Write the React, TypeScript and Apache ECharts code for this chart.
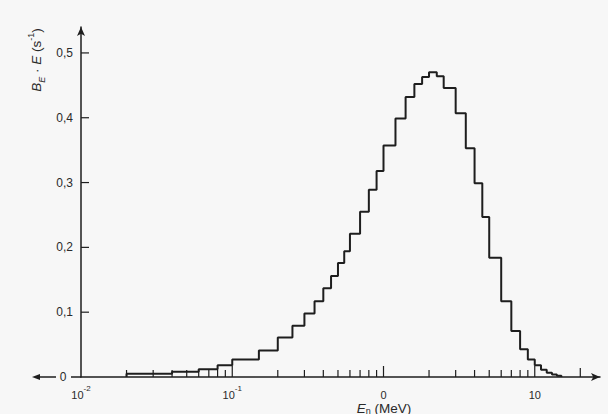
import React, { useEffect, useRef } from "react";
import * as echarts from "echarts";

// Energy bin edges (MeV) and histogram values B_E·E (s^-1)
const binEdges = [
  0.02, 0.04, 0.06, 0.08, 0.1, 0.15, 0.2, 0.25, 0.3, 0.35, 0.4, 0.45, 0.5, 0.55, 0.6,
  0.7, 0.8, 0.9, 1.0, 1.2, 1.4, 1.6, 1.8, 2.0, 2.25, 2.5, 3.0, 3.5, 4.0, 4.5, 5.0,
  6.0, 7.0, 8.0, 9.0, 10, 11, 12, 13, 14, 15,
];
const binValues = [
  0.005, 0.008, 0.012, 0.018, 0.027, 0.041, 0.061, 0.079, 0.098, 0.117, 0.137, 0.156,
  0.176, 0.194, 0.221, 0.255, 0.289, 0.318, 0.357, 0.399, 0.432, 0.452, 0.463, 0.47,
  0.464, 0.446, 0.407, 0.353, 0.299, 0.247, 0.184, 0.117, 0.071, 0.043, 0.027, 0.018,
  0.011, 0.0065, 0.004, 0.002,
];

// Axis ticks
const minorTicksX = [
  0.02, 0.03, 0.04, 0.05, 0.06, 0.07, 0.08, 0.09,
  0.2, 0.3, 0.4, 0.5, 0.6, 0.7, 0.8, 0.9,
  2, 3, 4, 5, 6, 7, 8, 9,
];
const majorTicksX = [0.1, 1, 10];
const extraTicksX = [20];
const yTickValues = [0.1, 0.2, 0.3, 0.4, 0.5];
const xTickLabels: Record<string, string> = {
  "-2": "{a|10}{s|-2}",
  "-1": "{a|10}{s|-1}",
  "0": "{a|0}",
  "1": "{a|10}",
};

const FONT = "Liberation Sans, Arial, sans-serif";
const INK = "#1e1e1e";
const TXT = "#2a2a2a";

export default function App() {
  const ref = useRef<HTMLDivElement>(null);

  useEffect(() => {
    if (!ref.current) return;
    const chart = echarts.init(ref.current, undefined, { renderer: "svg" });

    const histo: number[][] = [[binEdges[0], 0]];
    for (let i = 0; i < binValues.length; i++) {
      histo.push([binEdges[i], binValues[i]]);
      histo.push([binEdges[i + 1], binValues[i]]);
    }
    histo.push([binEdges[binEdges.length - 1], 0]);

    const xTickData = [
      ...minorTicksX.map((e) => [e, 0, 7]),
      ...majorTicksX.map((e) => [e, 0, 11]),
      ...extraTicksX.map((e) => [e, 0, 9]),
    ];
    const yTickData = yTickValues.map((v) => [0.01, v, 8]);

    chart.setOption({
      animation: false,
      backgroundColor: "#f7f7f7",
      grid: { left: 81, right: 8, top: 27, bottom: 37, containLabel: false },
      xAxis: {
        type: "log",
        logBase: 10,
        min: 0.01,
        max: 27,
        axisLine: {
          show: true,
          symbol: ["none", "arrow"],
          symbolSize: [6, 9],
          lineStyle: { color: INK, width: 1.5 },
        },
        axisTick: { show: false },
        minorTick: { show: false },
        splitLine: { show: false },
        axisLabel: {
          margin: 7,
          color: TXT,
          fontFamily: FONT,
          formatter: (v: number) => {
            const l = Math.log10(v);
            const r = Math.round(l);
            if (Math.abs(l - r) > 1e-6) return "";
            return xTickLabels[String(r)] || "";
          },
          rich: {
            a: { fontSize: 11, lineHeight: 22, verticalAlign: "middle", color: TXT, fontFamily: FONT },
            s: { fontSize: 8, lineHeight: 6, verticalAlign: "top", color: TXT, fontFamily: FONT },
          },
        },
      },
      yAxis: {
        type: "value",
        min: 0,
        max: 0.54,
        interval: 0.1,
        axisLine: {
          show: true,
          symbol: ["none", "arrow"],
          symbolSize: [6, 9],
          lineStyle: { color: INK, width: 1.5 },
        },
        axisTick: { show: false },
        splitLine: { show: false },
        axisLabel: {
          margin: 8,
          fontSize: 12,
          color: TXT,
          fontFamily: FONT,
          formatter: (v: number) => {
            const r = Math.round(v * 10);
            if (Math.abs(v * 10 - r) > 1e-6 || r === 0) return "";
            return "0," + r;
          },
        },
      },
      series: [
        {
          type: "line",
          data: histo,
          showSymbol: false,
          symbol: "none",
          lineStyle: { color: INK, width: 2 },
          z: 5,
        },
        {
          type: "custom",
          data: xTickData,
          encode: { x: 0, y: 1 },
          clip: false,
          z: 4,
          renderItem: (params: any, api: any) => {
            const p = api.coord([api.value(0), 0]);
            return {
              type: "line",
              shape: { x1: p[0], y1: p[1], x2: p[0], y2: p[1] - api.value(2) },
              style: { stroke: INK, lineWidth: 1.2 },
            };
          },
        },
        {
          type: "custom",
          data: yTickData,
          encode: { x: 0, y: 1 },
          clip: false,
          z: 4,
          renderItem: (params: any, api: any) => {
            const p = api.coord([api.value(0), api.value(1)]);
            return {
              type: "line",
              shape: { x1: p[0], y1: p[1], x2: p[0] + api.value(2), y2: p[1] },
              style: { stroke: INK, lineWidth: 1.2 },
            };
          },
        },
      ],
      graphic: [
        { type: "line", shape: { x1: 38, y1: 377, x2: 56, y2: 377 }, style: { stroke: INK, lineWidth: 1.5 } },
        { type: "polygon", shape: { points: [[32, 377], [40, 374], [40, 380]] }, style: { fill: INK } },
        { type: "line", shape: { x1: 71, y1: 377, x2: 81, y2: 377 }, style: { stroke: INK, lineWidth: 1.5 } },
        {
          type: "text",
          x: 63,
          y: 377,
          style: { text: "0", align: "center", verticalAlign: "middle", fontSize: 12, fill: TXT, fontFamily: FONT },
        },
        {
          type: "text",
          x: 36,
          y: 60,
          rotation: Math.PI / 2,
          style: {
            text: "{i|B}{sub|E}{n| · }{i|E}{n| (s}{sup|-1}{n|)}",
            align: "center",
            verticalAlign: "middle",
            fill: TXT,
            fontFamily: FONT,
            rich: {
              i: { fontSize: 13.5, fontStyle: "italic", lineHeight: 20, verticalAlign: "middle", fill: TXT, fontFamily: FONT },
              n: { fontSize: 13.5, lineHeight: 20, verticalAlign: "middle", fill: TXT, fontFamily: FONT },
              sub: { fontSize: 9, fontStyle: "italic", lineHeight: 8, verticalAlign: "bottom", fill: TXT, fontFamily: FONT },
              sup: { fontSize: 9, lineHeight: 8, verticalAlign: "top", fill: TXT, fontFamily: FONT },
            },
          },
        },
        {
          type: "text",
          x: 384,
          y: 408,
          style: {
            text: "{i|E}{sub|n}{n| (MeV)}",
            align: "center",
            verticalAlign: "middle",
            fill: TXT,
            fontFamily: FONT,
            rich: {
              i: { fontSize: 13.5, fontStyle: "italic", lineHeight: 14, verticalAlign: "middle", fill: TXT, fontFamily: FONT },
              n: { fontSize: 13.5, lineHeight: 14, verticalAlign: "middle", fill: TXT, fontFamily: FONT },
              sub: { fontSize: 9, lineHeight: 6, verticalAlign: "bottom", fill: TXT, fontFamily: FONT },
            },
          },
        },
      ],
    });

    return () => chart.dispose();
  }, []);

  return (
    <div
      ref={ref}
      style={{ position: "absolute", left: 0, top: 0, width: 608, height: 414, background: "#f7f7f7" }}
    />
  );
}
